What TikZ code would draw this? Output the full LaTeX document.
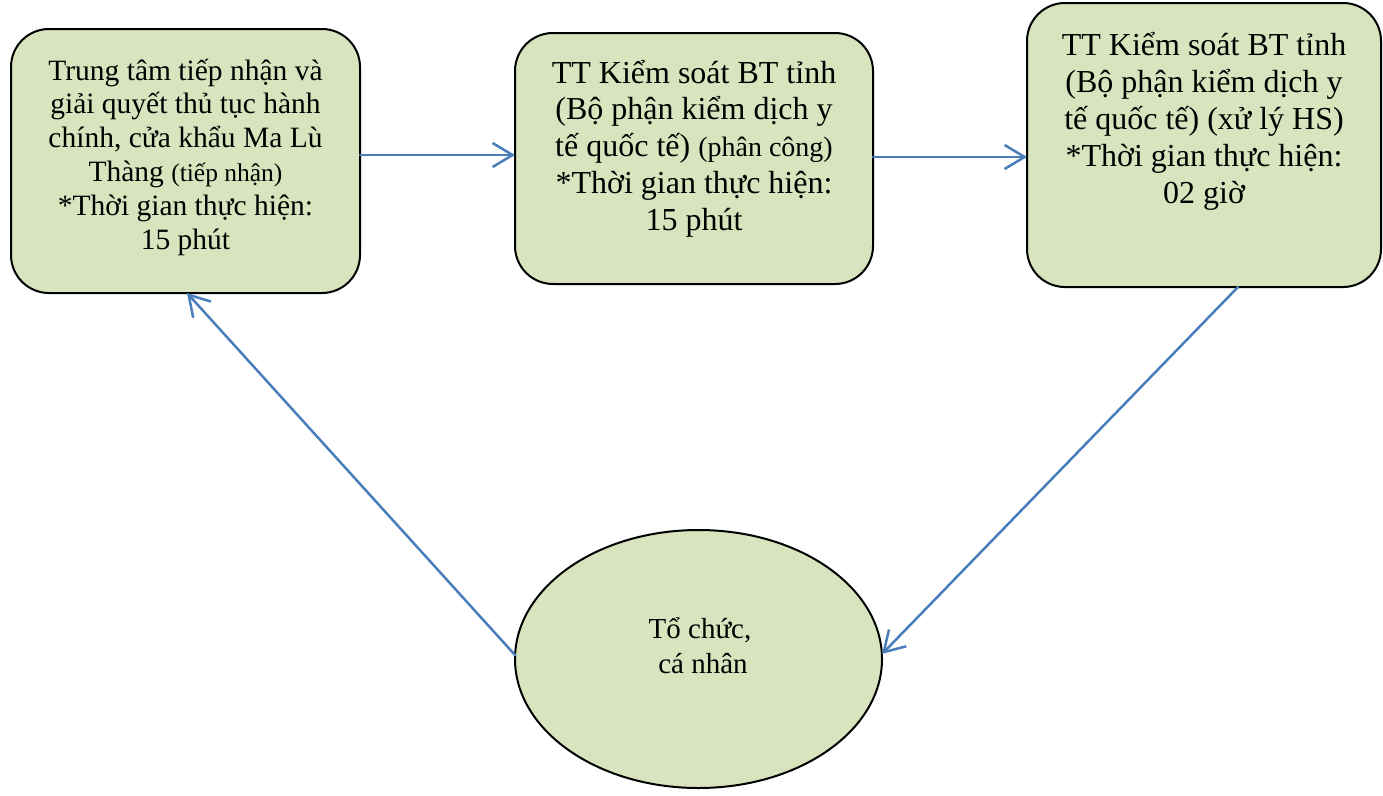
\documentclass[tikz,border=0pt]{standalone}
\usepackage{fontspec}
\setmainfont{Liberation Serif}
\usetikzlibrary{arrows.meta,shapes.geometric}
\definecolor{boxgreen}{HTML}{D7E4BD}
\definecolor{arrowblue}{HTML}{4A7EBB}
\begin{document}
\begin{tikzpicture}[x=1pt,y=-1pt,
  box/.style={draw=black, line width=2pt, fill=boxgreen, rounded corners=38pt,
    inner sep=0pt, outer sep=0pt},
  oval/.style={ellipse, draw=black, line width=2pt, fill=boxgreen,
    inner sep=0pt, outer sep=0pt},
  txt/.style={align=center, inner sep=0pt, anchor=base},
  arr/.style={draw=arrowblue, line width=2.5pt, line cap=round,
    -{Straight Barb[length=20pt,width=24pt,line width=2.5pt]}}
]
\useasboundingbox (0,0) rectangle (1383,795);
\node[box, minimum width=349pt, minimum height=264pt] (b1) at (185.5,161) {};
\node[box, minimum width=358pt, minimum height=251pt] (b2) at (694,158.5) {};
\node[box, minimum width=354pt, minimum height=284pt] (b3) at (1204,145) {};
\node[oval, minimum width=367pt, minimum height=258pt] (el) at (698.5,659) {};

\node[txt, font=\fontsize{29.5}{33.8}\selectfont] (t1) at (185.5,249)
  {Trung tâm tiếp nhận và\\ giải quyết thủ tục hành\\ chính, cửa khẩu Ma Lù\\
   Thàng {\fontsize{25.5}{33.8}\selectfont(tiếp nhận)}\\ *Thời gian thực hiện:\\ 15 phút};
\node[txt, font=\fontsize{32}{36.7}\selectfont] (t2) at (694,230)
  {TT Kiểm soát BT tỉnh\\ (Bộ phận kiểm dịch y\\ tế quốc tế) {\fontsize{28}{36.7}\selectfont(phân công)}\\
   *Thời gian thực hiện:\\ 15 phút};
\node[txt, font=\fontsize{32}{37}\selectfont] (t3) at (1204,203)
  {TT Kiểm soát BT tỉnh\\ (Bộ phận kiểm dịch y\\ tế quốc tế) (xử lý HS)\\
   *Thời gian thực hiện:\\ 02 giờ};
\node[txt, font=\fontsize{29}{35}\selectfont] (t4) at (700,673)
  {Tổ chức,\\ \hspace*{6pt}cá nhân};

\draw[arr] ([yshift=6pt]b1.east) -- ([yshift=3.5pt]b2.west);
\draw[arr] ([yshift=1.5pt]b2.east) -- ([yshift=-12pt]b3.west);
\draw[arr] ([xshift=34pt]b3.south) -- ([yshift=5pt]el.east);
\draw[arr] ([yshift=4pt]el.west) -- ([xshift=1.5pt]b1.south);
\end{tikzpicture}
\end{document}
